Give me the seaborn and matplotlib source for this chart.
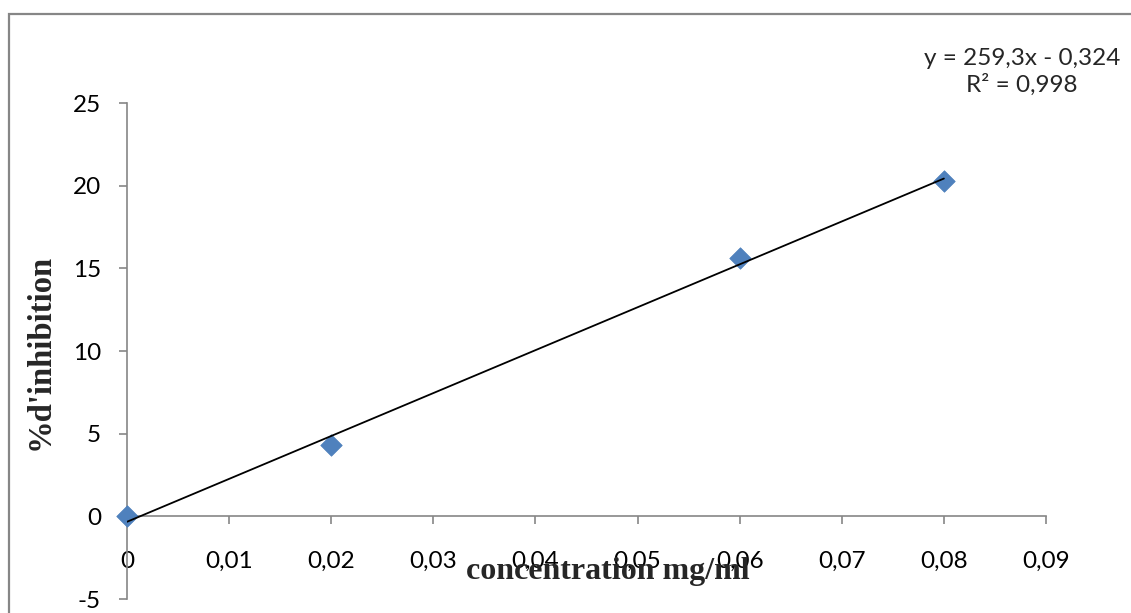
import numpy as np
import pandas as pd
import matplotlib
matplotlib.use("Agg")
import matplotlib.pyplot as plt
from matplotlib.ticker import FuncFormatter, FixedLocator
from matplotlib.patches import Rectangle
import seaborn as sns

# Data
concentration = [0.0, 0.02, 0.06, 0.08]
inhibition = [0.0, 4.3, 15.6, 20.3]
x_ticks = [0, 0.01, 0.02, 0.03, 0.04, 0.05, 0.06, 0.07, 0.08, 0.09]
y_ticks = [-5, 0, 5, 10, 15, 20, 25]
equation_text = "y = 259,3x - 0,324\nR² = 0,998"
x_label = "concentration mg/ml"
y_label = "%d'inhibition"

sns.set_style("white")
plt.rcParams['font.family'] = ['Lato', 'DejaVu Sans']

df = pd.DataFrame({"concentration": concentration, "inhibition": inhibition})

W, H = 1131, 613
fig = plt.figure(figsize=(W / 100, H / 100), dpi=100)
ax = fig.add_axes([127 / W, (H - 599) / H, (1046 - 127) / W, (599 - 103) / H])

sns.regplot(data=df, x="concentration", y="inhibition", ax=ax, ci=None, truncate=True,
            marker="D",
            scatter_kws=dict(s=120, color="#4F81BD", edgecolor="#4A7EBB", linewidths=0.5,
                             alpha=1, zorder=3, clip_on=False),
            line_kws=dict(color="black", lw=1.3, zorder=4))

ax.set_xlim(0, 0.09)
ax.set_ylim(-5, 25)

spine_c = "#868686"
for s in ["top", "right"]:
    ax.spines[s].set_visible(False)
ax.spines["bottom"].set_position(("data", 0))
ax.spines["left"].set_position(("data", 0))
for s in ["bottom", "left"]:
    ax.spines[s].set_color(spine_c)
    ax.spines[s].set_linewidth(1.2)
    ax.spines[s].set_zorder(1)

fmt = FuncFormatter(lambda v, p: ("{:g}".format(round(v, 4))).replace(".", ","))
ax.xaxis.set_major_locator(FixedLocator(x_ticks))
ax.yaxis.set_major_locator(FixedLocator(y_ticks))
ax.xaxis.set_major_formatter(fmt)
ax.yaxis.set_major_formatter(fmt)
ax.tick_params(axis="x", direction="out", length=5.8, width=1.2, color=spine_c,
               pad=19, labelsize=17.5, labelcolor="black", bottom=True)
ax.tick_params(axis="y", direction="out", length=5.8, width=1.2, color=spine_c,
               pad=13, labelsize=17.5, labelcolor="black", left=True)
ax.grid(False)

ax.set_xlabel(x_label, family=["Liberation Serif", "DejaVu Serif"], fontweight="bold",
              fontsize=23, va="center", ha="center")
ax.xaxis.set_label_coords((608 - 127) / 919, (599 - 571) / 496)
ax.set_ylabel(y_label, family=["Liberation Serif", "DejaVu Serif"], fontweight="bold",
              fontsize=23.5, va="center", ha="center")
ax.yaxis.set_label_coords((40 - 127) / 919, (599 - 352) / 496)

fig.text(1022 / W, (H - 72) / H, equation_text, ha="center", va="center",
         fontsize=17.5, linespacing=1.3)

rect = Rectangle((8.5 / W, -0.2), 1.2, (H - 13.5) / H + 0.2, transform=fig.transFigure,
                 fill=False, edgecolor=spine_c, lw=1.6, clip_on=False)
fig.patches.append(rect)

fig.savefig("out.png", dpi=100)
